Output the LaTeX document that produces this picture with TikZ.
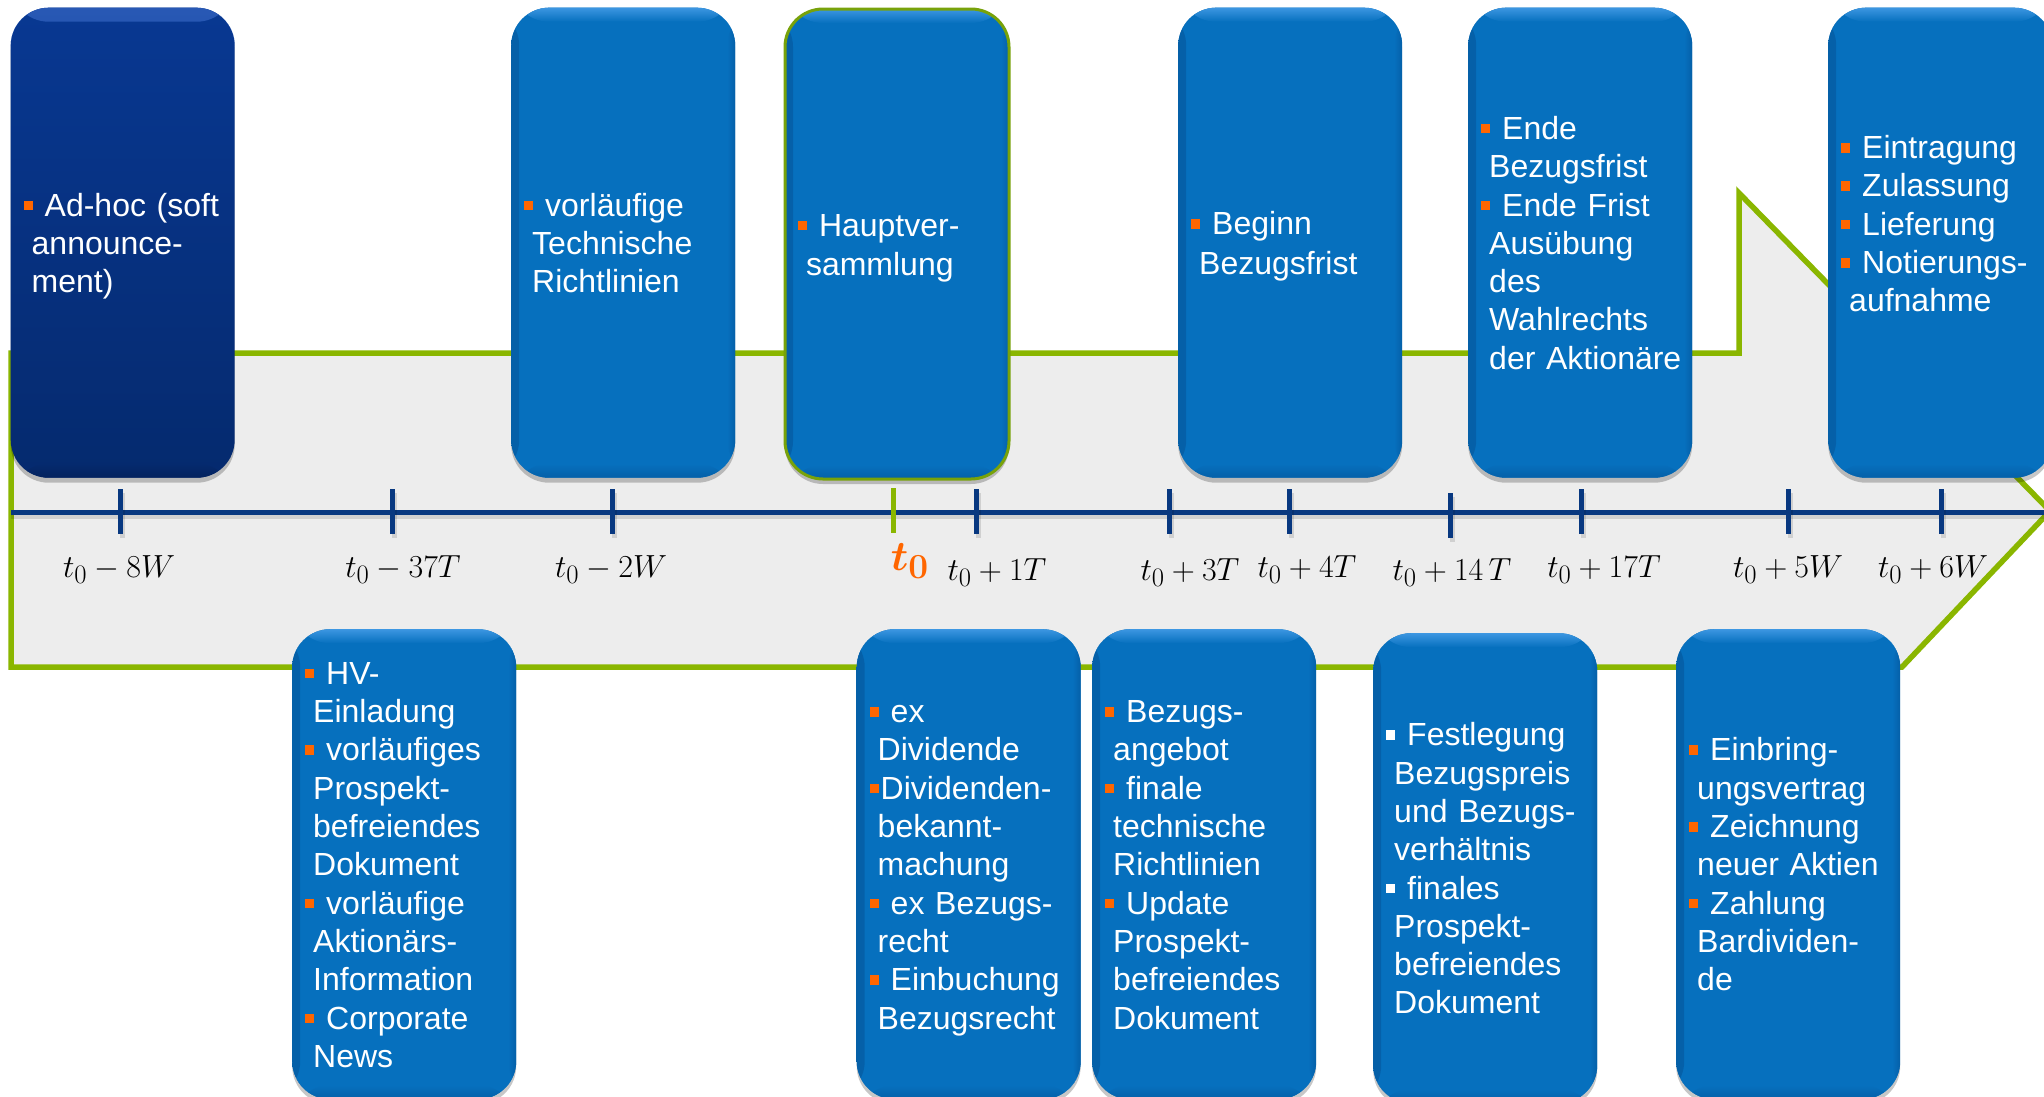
\documentclass[tikz,border=0pt]{standalone}
\usepackage{amsmath,bm}
\usepackage[no-math]{fontspec}
\setmainfont{Liberation Sans}
\usetikzlibrary{shadows}
\definecolor{boxblue}{RGB}{6,112,190}
\definecolor{boxhi}{RGB}{60,150,225}
\definecolor{boxlo}{RGB}{5,96,168}
\definecolor{navtop}{RGB}{8,56,146}
\definecolor{navbot}{RGB}{5,42,110}
\definecolor{navhi}{RGB}{40,88,180}
\definecolor{navlo}{RGB}{4,34,94}
\definecolor{arrgreen}{RGB}{138,182,0}
\definecolor{hvgreen}{RGB}{120,162,10}
\definecolor{axisnavy}{RGB}{8,56,128}
\definecolor{fillgray}{RGB}{237,237,237}
\definecolor{bulor}{RGB}{255,102,0}
\hyphenpenalty=10000
\exhyphenpenalty=10000
\newcommand\tstrut{\rule[-11.5pt]{0pt}{46.3pt}}
\newcommand\obul{\textcolor{bulor}{\rule[6pt]{9pt}{9.5pt}}\kern12pt\relax}
\newcommand\wbul{\textcolor{white}{\rule[6pt]{9pt}{9.5pt}}\kern12pt\relax}
\newcommand\tbul{\textcolor{bulor}{\rule[6pt]{9pt}{9.5pt}}\kern2pt\relax}
\newcommand\contl{\leavevmode\kern8pt\relax}
\tikzset{
  basebox/.style={rectangle, rounded corners=38pt, anchor=north west,
    minimum width=224pt, minimum height=470pt, inner xsep=13pt, inner ysep=0pt,
    text width=198pt, align=left, text=white,
    font=\fontsize{32}{38.3}\selectfont,
    drop shadow={shadow xshift=0pt, shadow yshift=-5pt, opacity=.22, fill=black}},
  bluebox/.style={basebox, fill=boxblue,
    path picture={
      \shade[left color=boxlo, right color=boxblue]
        (path picture bounding box.north west) rectangle ([xshift=8pt]path picture bounding box.south west);
      \shade[left color=boxblue, right color=boxlo]
        ([xshift=-8pt]path picture bounding box.north east) rectangle (path picture bounding box.south east);
      \shade[top color=boxhi, bottom color=boxblue]
        (path picture bounding box.north west) rectangle ([yshift=-14pt]path picture bounding box.north east);
      \shade[top color=boxblue, bottom color=boxlo]
        ([yshift=14pt]path picture bounding box.south west) rectangle (path picture bounding box.south east);
    }},
  darkbox/.style={basebox, top color=navtop, bottom color=navbot,
    path picture={
      \shade[top color=navhi, bottom color=navtop]
        (path picture bounding box.north west) rectangle ([yshift=-14pt]path picture bounding box.north east);
      \shade[top color=navbot, bottom color=navlo]
        ([yshift=14pt]path picture bounding box.south west) rectangle (path picture bounding box.south east);
    }},
  hvbox/.style={bluebox, draw=hvgreen, line width=3pt},
  arrowshape/.style={draw=arrgreen, fill=fillgray, line width=5.5pt, line join=miter},
  axisline/.style={draw=axisnavy, line width=5pt},
  tickmark/.style={draw=axisnavy, line width=5pt},
  tzero/.style={draw=arrgreen, line width=5pt},
  lbl/.style={anchor=base, inner sep=0pt, font=\fontsize{24.88}{30}\selectfont, scale=1.286, transform shape},
  lblzero/.style={anchor=base, inner sep=0pt, text=bulor, font=\fontsize{24.88}{30}\selectfont, scale=1.7, transform shape},
}
\begin{document}
\begin{tikzpicture}[x=1pt, y=-1pt]
\useasboundingbox (0,0) rectangle (2044,1096);
\clip (0,0) rectangle (2044,1096);
% big arrow
\draw[arrowshape] (11,353) -- (1739,353) -- (1739,193) -- (2050,511) -- (1902,667) -- (11,667) -- cycle;
% axis
\coordinate (axL) at (11,512.5);
\coordinate (axR) at (2050,512.5);
\draw[black, opacity=.12, line width=5pt] ([yshift=-4pt]axL) -- ([yshift=-4pt]axR);
\draw[axisline] (axL) -- (axR);
\foreach \x in {120,392,612,976,1169,1289,1581,1788,1941}{
  \draw[black, opacity=.12, line width=5pt] (\x+2,493) -- (\x+2,538);
  \draw[tickmark] (\x,489) -- (\x,534);
}
\draw[black, opacity=.12, line width=5pt] (1452,497) -- (1452,542);
\draw[tickmark] (1450,493) -- (1450,538);
\draw[tzero] (893,488) -- (893,533);
% labels
\node[lbl] (l1) at (119,577) {$t_0-8W$};
\node[lbl] (l2) at (403,577) {$t_0-37T$};
\node[lbl] (l3) at (611,577) {$t_0-2W$};
\node[lblzero] (l0) at (910,570) {$\bm{t}_{\bm{0}}$};
\node[lbl] (l4) at (997,580) {$t_0+1T$};
\node[lbl] (l5) at (1190,580) {$t_0+3T$};
\node[lbl] (l6) at (1307,577) {$t_0+4T$};
\node[lbl] (l7) at (1452,580) {$t_0+14\,T$};
\node[lbl] (l8) at (1604,577) {$t_0+17T$};
\node[lbl] (l9) at (1788,577) {$t_0+5W$};
\node[lbl] (l10) at (1933,577) {$t_0+6W$};
% top boxes
\node[darkbox] (b1) at (10.5,7.5) {\tstrut\obul Ad-hoc~(soft\\ \contl announce-\\ \contl ment)\strut};
\node[bluebox] (b2) at (511,7.5) {\tstrut\obul vorläufige\\ \contl Technische\\ \contl Richtlinien\strut};
\node[hvbox] (b3) at (783.5,7.5) {\tstrut\obul Hauptver-\\ \contl sammlung\strut};
\node[bluebox] (b4) at (1178,7.5) {\tstrut\obul Beginn\\ \contl Bezugsfrist\strut};
\node[bluebox] (b5) at (1468,7.5) {\tstrut\obul Ende\\ \contl Bezugsfrist\\ \obul Ende~Frist\\ \contl Ausübung\\ \contl des\\ \contl Wahlrechts\\ \contl der~Aktionäre\strut};
\node[bluebox] (b6) at (1828,7.5) {\tstrut\obul Eintragung\\ \obul Zulassung\\ \obul Lieferung\\ \obul Notierungs-\\ \contl aufnahme\\ \strut};
% bottom boxes
\node[bluebox] (c1) at (292,629) {\tstrut\obul HV-\\ \contl Einladung\\ \obul vorläufiges\\ \contl Prospekt-\\ \contl befreiendes\\ \contl Dokument\\ \obul vorläufige\\ \contl Aktionärs-\\ \contl Information\\ \obul Corporate\\ \contl News\strut};
\node[bluebox] (c2) at (856.5,629) {\tstrut\obul ex\\ \contl Dividende\\ \tbul Dividenden-\\ \contl bekannt-\\ \contl machung\\ \obul ex~Bezugs-\\ \contl recht\\ \obul Einbuchung\\ \contl Bezugsrecht\strut};
\node[bluebox] (c3) at (1092,629) {\tstrut\obul Bezugs-\\ \contl angebot\\ \obul finale\\ \contl technische\\ \contl Richtlinien\\ \obul Update\\ \contl Prospekt-\\ \contl befreiendes\\ \contl Dokument\strut};
\node[bluebox] (c4) at (1373,633) {\tstrut\wbul Festlegung\\ \contl Bezugspreis\\ \contl und~Bezugs-\\ \contl verhältnis\\ \wbul finales\\ \contl Prospekt-\\ \contl befreiendes\\ \contl Dokument\strut};
\node[bluebox] (c5) at (1676,629) {\tstrut\obul Einbring-\\ \contl ungsvertrag\\ \obul Zeichnung\\ \contl neuer~Aktien\\ \obul Zahlung\\ \contl Bardividen-\\ \contl de\strut};
\end{tikzpicture}
\end{document}
